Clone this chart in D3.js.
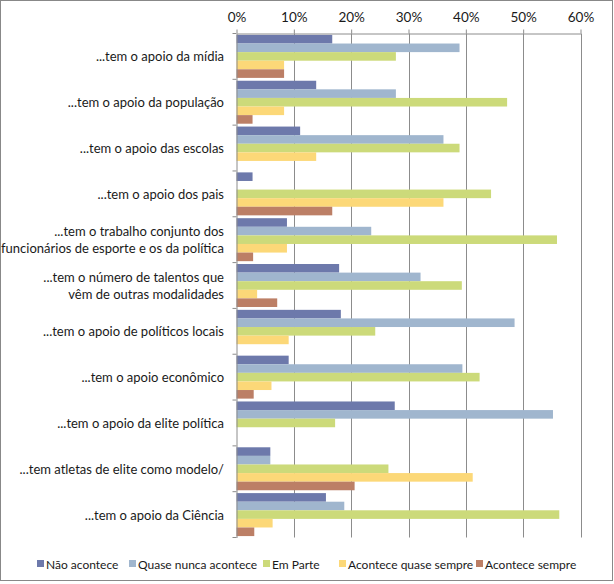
<!DOCTYPE html>
<html>
<head>
<meta charset="utf-8">
<script src="https://cdn.jsdelivr.net/npm/d3@7"></script>
<style>
  html, body { margin: 0; padding: 0; background: #fff; }
  svg { display: block; }
  text { font-family: Lato, "Open Sans", sans-serif; fill: #1a1a1a; }
</style>
</head>
<body>
<svg id="chart" width="614" height="584"></svg>
<script>
const categories = [
  ["...tem o apoio da mídia"],
  ["...tem o apoio da população"],
  ["...tem o apoio das escolas"],
  ["...tem o apoio dos pais"],
  ["...tem o trabalho conjunto dos", "funcionários de esporte e os da política"],
  ["...tem o número de talentos que", "vêm de outras modalidades"],
  ["...tem o apoio de políticos locais"],
  ["...tem o apoio econômico"],
  ["...tem o apoio da elite política"],
  ["...tem atletas de elite como modelo/"],
  ["...tem o apoio da Ciência"]
];
const seriesNames = ["Não acontece", "Quase  nunca acontece", "Em Parte", "Acontece quase sempre", "Acontece sempre"];
const naoAcontece      = [16.7, 13.9, 11.1, 2.8,  8.8, 17.9, 18.2,  9.1, 27.6,  5.9, 15.6];
const quaseNunca       = [38.9, 27.8, 36.1, 0.0, 23.5, 32.1, 48.5, 39.4, 55.2,  5.9, 18.8];
const emParte          = [27.8, 47.2, 38.9, 44.4, 55.9, 39.3, 24.2, 42.4, 17.2, 26.5, 56.3];
const quaseSempre      = [ 8.3,  8.3, 13.9, 36.1,  8.8,  3.6,  9.1,  6.1,  0.0, 41.2,  6.3];
const sempre           = [ 8.3,  2.8,  0.0, 16.7,  2.9,  7.1,  0.0,  3.0,  0.0, 20.6,  3.1];
const tickValues = [0, 10, 20, 30, 40, 50, 60];
const colors = ["#6D79AB", "#A0B6CE", "#CCDA7A", "#FCD878", "#BC7F66"];

const seriesValues = [naoAcontece, quaseNunca, emParte, quaseSempre, sempre];

const svg = d3.select("#chart");
const W = 614, H = 584;

// outer border
svg.append("rect").attr("x", 0.5).attr("y", 0.5).attr("width", W - 2).attr("height", H - 4)
  .attr("fill", "#fff").attr("stroke", "#888").attr("stroke-width", 1);

const pL = 236.5, pR = 580.5, pT = 33.5, pB = 537.5;

const x = d3.scaleLinear().domain([0, 60]).range([pL, pR]);
const y = d3.scaleBand().domain(d3.range(categories.length)).range([pT, pB]).paddingInner(0).paddingOuter(0);
const inner = d3.scaleBand().domain(d3.range(seriesNames.length))
  .range([0, y.bandwidth()]).paddingOuter(0.166).paddingInner(0);

// gridlines
svg.append("g").selectAll("line").data(tickValues.slice(1)).join("line")
  .attr("x1", d => Math.round(x(d)) + 0.5).attr("x2", d => Math.round(x(d)) + 0.5)
  .attr("y1", pT).attr("y2", pB)
  .attr("stroke", "#8c8c8c").attr("stroke-width", 1);

// top axis
const xAxis = d3.axisTop(x).tickValues(tickValues).tickFormat(d => d + "%").tickSize(4).tickSizeOuter(0);
const gx = svg.append("g").attr("transform", `translate(0,${pT})`).call(xAxis);
gx.select(".domain").attr("stroke", "#8c8c8c");
gx.selectAll(".tick line").attr("stroke", "#8c8c8c");
gx.selectAll(".tick text").attr("font-size", 13.5).attr("font-family", "Lato, sans-serif").attr("fill", "#1a1a1a").attr("dy", -5);

// bars
const groups = svg.append("g").selectAll("g").data(categories).join("g")
  .attr("transform", (d, i) => `translate(0,${y(i)})`);
groups.selectAll("rect").data((d, i) => seriesValues.map((s, k) => ({k, v: s[i]})))
  .join("rect")
  .attr("x", x(0))
  .attr("y", d => inner(d.k))
  .attr("width", d => x(d.v) - x(0))
  .attr("height", inner.bandwidth())
  .attr("fill", d => colors[d.k]);

// left axis
const yAxis = d3.axisLeft(y).tickValues([]).tickSize(0).tickSizeOuter(0);
const gy = svg.append("g").attr("transform", `translate(${pL},0)`).call(yAxis);
gy.select(".domain").attr("stroke", "#8c8c8c");
const boundaries = d3.range(categories.length + 1).map(i => pT + i * y.step());
svg.append("g").selectAll("line").data(boundaries).join("line")
  .attr("x1", pL - 4).attr("x2", pL).attr("y1", d => d).attr("y2", d => d)
  .attr("stroke", "#8c8c8c");

// category labels
const labels = svg.append("g").selectAll("text").data(categories).join("text")
  .attr("text-anchor", "end")
  .attr("font-size", 13)
  .attr("x", 224)
  .attr("y", (d, i) => y(i) + y.bandwidth() / 2 + 5 - (d.length - 1) * 8.5);
labels.selectAll("tspan").data(d => d).join("tspan")
  .attr("x", 224).attr("dy", (d, j) => j === 0 ? 0 : 17).text(d => d);

// legend
const legend = svg.append("g").attr("transform", "translate(0,564)");
const legendX = [37, 129, 263, 339, 476];
const lg = legend.selectAll("g").data(seriesNames).join("g")
  .attr("transform", (d, i) => `translate(${legendX[i]},0)`);
lg.append("rect").attr("x", 0).attr("y", -4).attr("width", 7).attr("height", 7).attr("fill", (d, i) => colors[i]);
lg.append("text").attr("x", 9).attr("y", 4.5).attr("font-size", 12).text(d => d);
</script>
</body>
</html>
